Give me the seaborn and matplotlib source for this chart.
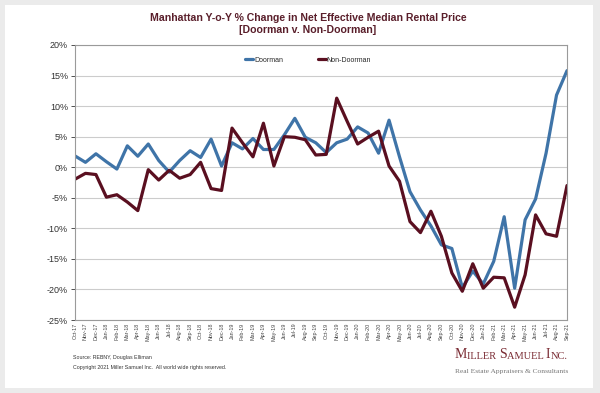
import pandas as pd
import seaborn as sns
import matplotlib.pyplot as plt
from matplotlib.patches import Rectangle
from matplotlib.text import Annotation
from matplotlib.ticker import FuncFormatter

# month labels Oct-17 .. Sep-21
months = list(pd.date_range("2017-10-01", periods=48, freq="MS").strftime("%b-%y"))

doorman = [1.85, 0.8, 2.2, 0.9, -0.3, 3.5, 1.8, 3.8, 1.1, -0.8, 1.1, 2.7,
           1.6, 4.6, 0.2, 4.0, 3.0, 4.7, 2.9, 2.9, 5.3, 8.0, 4.9, 4.0,
           2.4, 4.0, 4.6, 6.6, 5.6, 2.3, 7.7, 1.7, -4.0, -7.0, -9.6, -12.7,
           -13.3, -19.7, -17.0, -19.1, -15.4, -8.1, -19.8, -8.6, -5.2, 2.3, 11.8, 15.8]
non_doorman = [-1.96, -1.0, -1.2, -4.9, -4.5, -5.7, -7.1, -0.4, -2.1, -0.5, -1.8, -1.2,
               0.8, -3.5, -3.8, 6.4, 4.0, 1.7, 7.2, 0.2, 5.0, 4.9, 4.5, 2.0,
               2.1, 11.3, 7.5, 3.8, 4.9, 5.9, 0.2, -2.3, -8.9, -10.7, -7.2, -11.3,
               -17.3, -20.3, -15.8, -19.8, -18.0, -18.1, -22.9, -17.6, -7.8, -10.9, -11.3, -3.0]

series_names = ["Doorman", "Non-Doorman"]
colors = {"Doorman": "#3f74a8", "Non-Doorman": "#5a0f20"}

df = pd.DataFrame({
    "idx": list(range(len(months))) * 2,
    "value": doorman + non_doorman,
    "series": [series_names[0]] * len(months) + [series_names[1]] * len(months),
})

sns.set_theme(style="white")
plt.rcParams["font.family"] = ["Liberation Sans", "DejaVu Sans"]

fig = plt.figure(figsize=(6, 3.93), dpi=100)
fig.patch.set_facecolor("#ebebeb")
# white card behind everything
fig.patches.append(Rectangle((5 / 600, 5 / 393), 588 / 600, 383 / 393,
                             transform=fig.transFigure, facecolor="white",
                             edgecolor="none", zorder=-5))

ax = fig.add_axes([75 / 600, 1 - 320 / 393, 492 / 600, 275 / 393])
ax.set_facecolor("white")

sns.lineplot(data=df, x="idx", y="value", hue="series", palette=colors,
             linewidth=2.3, ax=ax)

ax.set_xlim(0, len(months) - 1)
ax.set_ylim(-25, 20)
ax.set_yticks(range(-25, 21, 5))
ax.yaxis.set_major_formatter(FuncFormatter(lambda v, p: f"{int(v)}%"))
ax.set_xticks(range(len(months)))
ax.set_xticklabels(months, rotation=90, fontsize=3.9, color="#444444")
ax.tick_params(axis="y", labelsize=6.5, colors="#333333", length=3, width=0.6,
               left=True, pad=2)
ax.tick_params(axis="x", length=0, pad=2)
ax.set_xlabel("")
ax.set_ylabel("")
ax.grid(axis="y", color="#cccccc", linewidth=0.8)
ax.set_axisbelow(True)
for s in ax.spines.values():
    s.set_color("#9a9a9a")
    s.set_linewidth(0.8)

ax.legend(loc="center", bbox_to_anchor=((308 - 75) / 492, (320 - 60) / 275),
          ncol=2, frameon=False, fontsize=5, handlelength=1.2,
          handletextpad=0.1, columnspacing=5.0)

fig.text(308 / 600, 1 - 24 / 393,
         "Manhattan Y-o-Y % Change in Net Effective Median Rental Price\n[Doorman v. Non-Doorman]",
         ha="center", va="center", fontsize=7.6, fontweight="bold",
         color="#5a1f2b", linespacing=1.3)

# footer
fig.text(73 / 600, 1 - 357 / 393, "Source: REBNY, Douglas Elliman",
         fontsize=3.8, color="#333333", va="center")
fig.text(73 / 600, 1 - 367 / 393,
         "Copyright 2021 Miller Samuel Inc.  All world wide rights reserved.",
         fontsize=3.8, color="#333333", va="center")

# logo in small caps
logo_col = "#7a2b33"
serif = ["Liberation Serif", "DejaVu Serif"]
pieces = [("M", 10), ("ILLER ", 7.5), ("S", 10), ("AMUEL ", 7.5), ("I", 10), ("NC.", 7.5)]
prev = fig.text(455 / 600, 1 - 358 / 393, pieces[0][0], fontsize=pieces[0][1],
                color=logo_col, family=serif, va="baseline")
for txt, sz in pieces[1:]:
    a = Annotation(txt, xy=(1, 0), xycoords=prev, fontsize=sz, color=logo_col,
                   family=serif, va="bottom", ha="left")
    fig.add_artist(a)
    prev = a
fig.text(455 / 600, 1 - 372 / 393, "Real Estate Appraisers & Consultants",
         fontsize=5.4, color="#777777", family=serif, va="center")

fig.savefig("out.png", dpi=100, facecolor=fig.get_facecolor())
